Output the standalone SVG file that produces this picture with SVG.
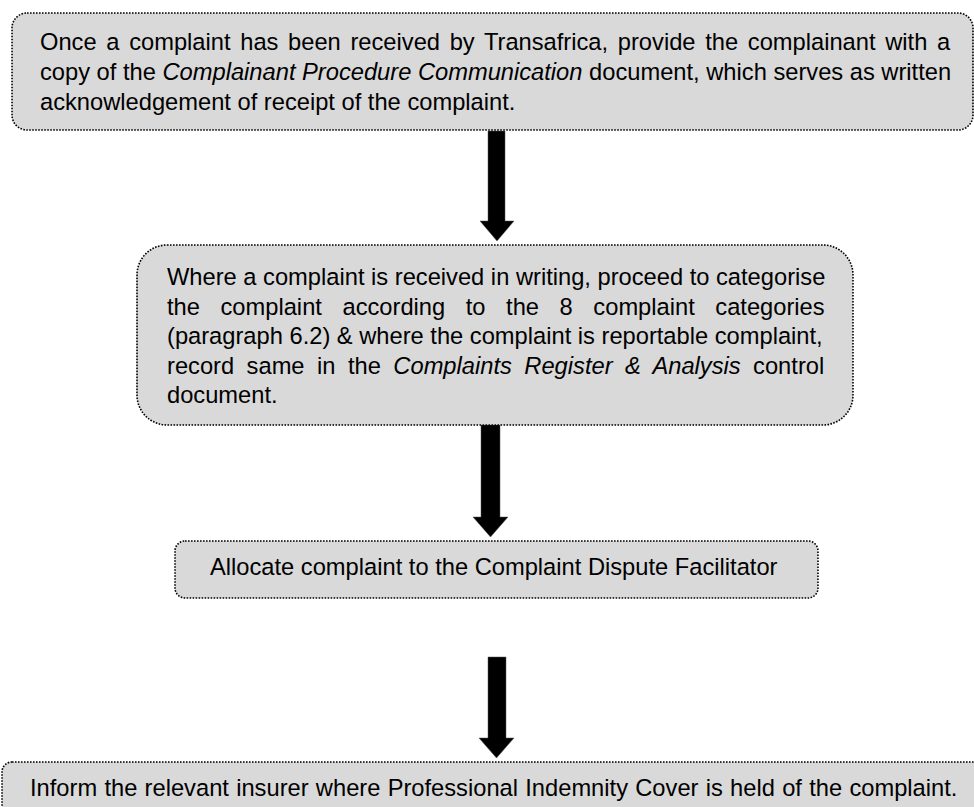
<svg xmlns="http://www.w3.org/2000/svg" width="974" height="807" viewBox="0 0 974 807">
<style>
.box{fill:#d9d9d9;stroke:#000;stroke-width:1.6;stroke-dasharray:1.6 1.4}
.t{font-family:"Liberation Sans",Arial,sans-serif;font-size:23.7px;fill:#000}
.i{font-style:italic}
.arr{fill:#000;stroke:#555;stroke-width:0.5}
</style>
<rect width="974" height="807" fill="#fff"/>
<g id="connectors">
<path class="arr" d="M488,131 H505 V221 H514 L497,241 L480,221 H488 Z"/>
<path class="arr" d="M481,425 H500 V517 H508 L490.5,537 L473,517 H481 Z"/>
<path class="arr" d="M488,657 H506 V738 H514 L496.5,758 L479,738 H488 Z"/>
</g>
<g id="node1">
<rect class="box" x="12" y="13" width="961" height="117" rx="15"/>
<text class="t" x="40" y="50" word-spacing="3.1">Once a complaint has been received by Transafrica, provide the complainant with a</text>
<text class="t" x="40" y="80">copy of the <tspan class="i">Complainant Procedure Communication</tspan> document, which serves as written</text>
<text class="t" x="40" y="110">acknowledgement of receipt of the complaint.</text>
</g>
<g id="node2">
<rect class="box" x="137" y="245" width="716" height="180" rx="30"/>
<text class="t" x="167" y="285">Where a complaint is received in writing, proceed to categorise</text>
<text class="t" x="167" y="314.5" word-spacing="14">the complaint according to the 8 complaint categories</text>
<text class="t" x="167" y="344">(paragraph 6.2) &amp; where the complaint is reportable complaint,</text>
<text class="t" x="167" y="373.5" word-spacing="5.9">record same in the <tspan class="i">Complaints Register &amp; Analysis</tspan> control</text>
<text class="t" x="167" y="403">document.</text>
</g>
<g id="node3">
<rect class="box" x="175" y="541" width="643" height="57" rx="10"/>
<text class="t" x="210" y="575">Allocate complaint to the Complaint Dispute Facilitator</text>
</g>
<g id="node4">
<rect class="box" x="2" y="762" width="990" height="80" rx="10"/>
<text class="t" x="30" y="796" word-spacing="0.7">Inform the relevant insurer where Professional Indemnity Cover is held of the complaint.</text>
</g>
</svg>
